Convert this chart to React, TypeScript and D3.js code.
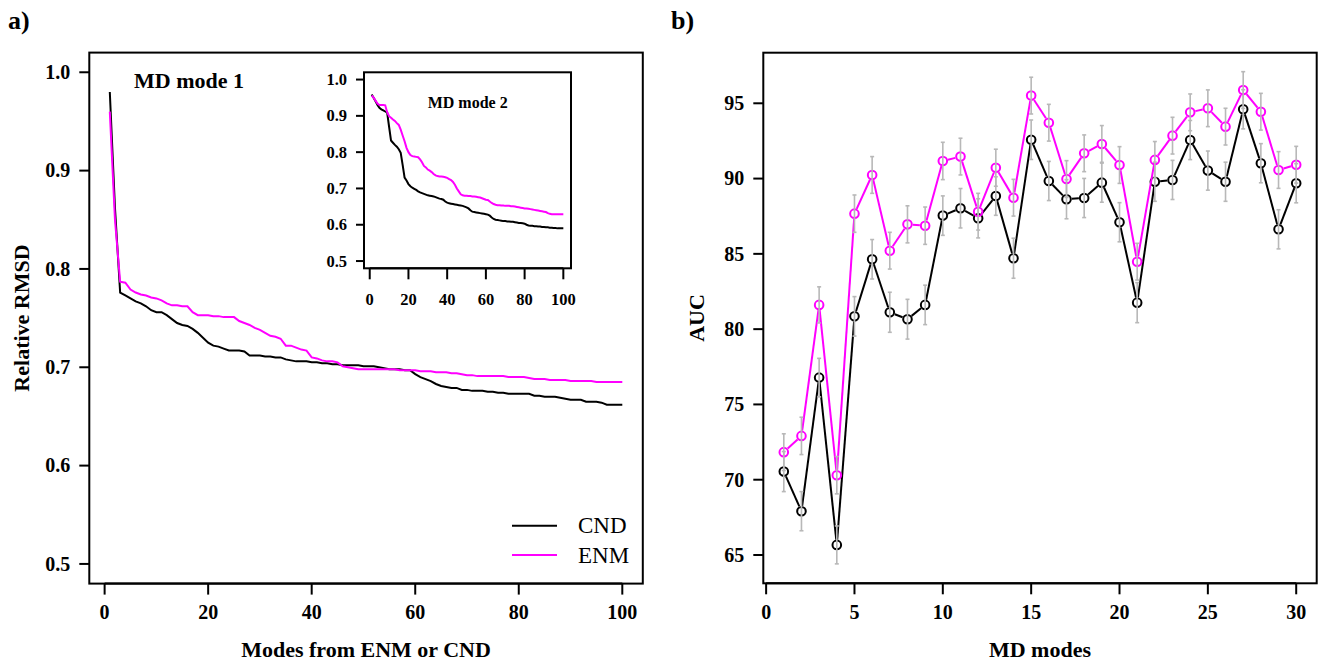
import { scaleLinear, line } from "d3";

// ---- panel a: relative RMSD vs number of modes (MD mode 1) ----
const cndMode1 = [
  0.98, 0.862, 0.776, 0.773, 0.77, 0.767, 0.765, 0.762, 0.758, 0.756,
  0.756, 0.753, 0.749, 0.745, 0.743, 0.742, 0.739, 0.735, 0.73, 0.725,
  0.722, 0.721, 0.719, 0.717, 0.717, 0.717, 0.716, 0.712, 0.712, 0.712,
  0.711, 0.711, 0.71, 0.71, 0.708, 0.707, 0.706, 0.706, 0.706, 0.705,
  0.705, 0.704, 0.704, 0.703, 0.703, 0.702, 0.702, 0.702, 0.702, 0.701,
  0.701, 0.701, 0.7, 0.699, 0.698, 0.698, 0.698, 0.697, 0.697, 0.693,
  0.69, 0.688, 0.686, 0.683, 0.681, 0.68, 0.679, 0.679, 0.677, 0.677,
  0.676, 0.676, 0.676, 0.675, 0.675, 0.674, 0.674, 0.673, 0.673, 0.673,
  0.673, 0.673, 0.671, 0.671, 0.67, 0.67, 0.67, 0.669, 0.668, 0.667,
  0.667, 0.667, 0.665, 0.665, 0.665, 0.664, 0.662, 0.662, 0.662, 0.662,
];
const enmMode1 = [
  0.96, 0.85, 0.787, 0.786, 0.779, 0.776, 0.774, 0.773, 0.771, 0.77,
  0.768, 0.765, 0.763, 0.763, 0.762, 0.762, 0.756, 0.753, 0.753, 0.753,
  0.752, 0.752, 0.751, 0.751, 0.751, 0.747, 0.745, 0.743, 0.74, 0.738,
  0.735, 0.732, 0.731, 0.729, 0.722, 0.722, 0.72, 0.718, 0.717, 0.71,
  0.709, 0.707, 0.706, 0.706, 0.705, 0.701, 0.7, 0.699, 0.698, 0.698,
  0.698, 0.698, 0.698, 0.698, 0.698, 0.698, 0.697, 0.697, 0.697, 0.697,
  0.696, 0.696, 0.696, 0.695, 0.695, 0.695, 0.694, 0.694, 0.693, 0.692,
  0.692, 0.691, 0.691, 0.691, 0.691, 0.691, 0.691, 0.69, 0.69, 0.69,
  0.69, 0.689, 0.688, 0.688, 0.688, 0.687, 0.687, 0.687, 0.687, 0.686,
  0.686, 0.686, 0.686, 0.686, 0.685, 0.685, 0.685, 0.685, 0.685, 0.685,
];
// inset: MD mode 2
const cndMode2 = [
  0.959, 0.95, 0.94, 0.93, 0.922, 0.918, 0.915, 0.912, 0.909, 0.87,
  0.832, 0.826, 0.82, 0.815, 0.808, 0.798, 0.765, 0.73, 0.722, 0.712,
  0.706, 0.702, 0.699, 0.696, 0.692, 0.689, 0.687, 0.685, 0.683, 0.681,
  0.68, 0.679, 0.678, 0.676, 0.674, 0.672, 0.671, 0.669, 0.664, 0.661,
  0.659, 0.658, 0.657, 0.656, 0.655, 0.654, 0.653, 0.652, 0.65, 0.648,
  0.645, 0.64, 0.636, 0.635, 0.634, 0.633, 0.632, 0.631, 0.63, 0.629,
  0.628, 0.625, 0.62, 0.616, 0.614, 0.613, 0.612, 0.611, 0.61, 0.61,
  0.609, 0.609, 0.608, 0.608, 0.607, 0.606, 0.605, 0.605, 0.604, 0.603,
  0.6, 0.598, 0.597, 0.597, 0.596, 0.596, 0.595, 0.595, 0.594, 0.594,
  0.593, 0.593, 0.592, 0.592, 0.591, 0.591, 0.59, 0.59, 0.59, 0.59,
];
const enmMode2 = [
  0.956, 0.95, 0.942, 0.934, 0.93, 0.93, 0.93, 0.929, 0.91, 0.899,
  0.895, 0.89, 0.886, 0.88, 0.875, 0.862, 0.846, 0.83, 0.812, 0.8,
  0.792, 0.789, 0.788, 0.787, 0.786, 0.78, 0.772, 0.762, 0.758, 0.752,
  0.749, 0.745, 0.74, 0.736, 0.734, 0.733, 0.733, 0.732, 0.731, 0.729,
  0.726, 0.723, 0.718, 0.71, 0.7, 0.692, 0.684, 0.681, 0.68, 0.68,
  0.679, 0.679, 0.678, 0.678, 0.677, 0.676, 0.675, 0.673, 0.671, 0.669,
  0.668, 0.664, 0.66, 0.657, 0.655, 0.654, 0.654, 0.653, 0.653, 0.652,
  0.652, 0.652, 0.651, 0.651, 0.65, 0.649, 0.648, 0.647, 0.646, 0.645,
  0.645, 0.644, 0.643, 0.642, 0.641, 0.64, 0.639, 0.638, 0.637, 0.636,
  0.635, 0.632, 0.63, 0.629, 0.629, 0.629, 0.629, 0.629, 0.629, 0.629,
];
const rmsdTicks = [0.5, 0.6, 0.7, 0.8, 0.9, 1.0];
const modeTicks = [0, 20, 40, 60, 80, 100];

// ---- panel b: AUC per MD mode ----
const mdModes = [
  1, 2, 3, 4, 5, 6, 7, 8, 9, 10, 11, 12, 13, 14, 15,
  16, 17, 18, 19, 20, 21, 22, 23, 24, 25, 26, 27, 28, 29, 30,
];
const aucCnd = [
  70.54, 67.91, 76.78, 65.67, 80.85, 84.64, 81.12, 80.66, 81.61, 87.54,
  88.03, 87.36, 88.84, 84.71, 92.58, 89.84, 88.63, 88.71, 89.73, 87.1,
  81.76, 89.79, 89.91, 92.56, 90.53, 89.79, 94.6, 91.02, 86.63, 89.69,
];
const aucCndErr = [
  1.33, 1.3, 1.28, 1.26, 1.31, 1.31, 1.33, 1.32, 1.31, 1.31,
  1.31, 1.3, 1.28, 1.33, 1.31, 1.3, 1.3, 1.3, 1.3, 1.3,
  1.33, 1.3, 1.3, 1.3, 1.3, 1.3, 1.3, 1.3, 1.3, 1.3,
];
const aucEnm = [
  71.83, 72.91, 81.61, 70.3, 87.67, 90.24, 85.21, 86.96, 86.87, 91.17,
  91.46, 87.8, 90.72, 88.73, 95.51, 93.71, 89.97, 91.68, 92.3, 90.9,
  84.48, 91.24, 92.85, 94.4, 94.67, 93.45, 95.88, 94.44, 90.57, 90.92,
];
const aucEnmErr = [
  1.22, 1.24, 1.2, 1.24, 1.24, 1.22, 1.22, 1.23, 1.24, 1.24,
  1.22, 1.22, 1.23, 1.22, 1.22, 1.22, 1.22, 1.22, 1.22, 1.22,
  1.22, 1.22, 1.22, 1.22, 1.22, 1.22, 1.22, 1.22, 1.22, 1.22,
];
const aucTicks = [65, 70, 75, 80, 85, 90, 95];
const mdTicks = [0, 5, 10, 15, 20, 25, 30];

const FONT = "'Liberation Serif', 'Times New Roman', serif";
const MAGENTA = "#ff00ff";
const ERR_GREY = "#b8b8b8";

const xA = scaleLinear().domain([-2.96, 103.96]).range([89.3, 642.8]);
const yA = scaleLinear().domain([0.48, 1.02]).range([583.6, 52.6]);
const xI = scaleLinear().domain([-2.96, 103.96]).range([364, 571]);
const yI = scaleLinear().domain([0.48, 1.02]).range([268.3, 72.3]);
const xB = scaleLinear().domain([-0.16, 31.16]).range([763.3, 1316.7]);
const yB = scaleLinear().domain([63.12, 98.36]).range([583.3, 52.7]);

function curve(xs: any, ys: any, vals: number[]) {
  return (
    line<number>()
      .x((_, i) => xs(i + 1))
      .y((d) => ys(d))(vals) || ""
  );
}

function Box({ x, y }: { x: any; y: any }) {
  const [x0, x1] = x.range();
  const [y0, y1] = y.range();
  return (
    <rect
      x={x0}
      y={y1}
      width={x1 - x0}
      height={y0 - y1}
      fill="none"
      stroke="#000"
      strokeWidth={2}
    />
  );
}

function LeftAxis({ y, x0, ticks, fmt, size, tick }: any) {
  return (
    <g>
      {ticks.map((t: number) => (
        <g key={t}>
          <line x1={x0 - tick} x2={x0} y1={y(t)} y2={y(t)} stroke="#000" strokeWidth={2} />
          <text
            x={x0 - tick - 9}
            y={y(t)}
            dy="0.34em"
            textAnchor="end"
            fontSize={size}
            fontWeight="bold"
            fontFamily={FONT}
          >
            {fmt(t)}
          </text>
        </g>
      ))}
    </g>
  );
}

function BottomAxis({ x, y0, ticks, size, tick, labelY }: any) {
  return (
    <g>
      <line
        x1={x(ticks[0])}
        x2={x(ticks[ticks.length - 1])}
        y1={y0}
        y2={y0}
        stroke="#000"
        strokeWidth={2}
      />
      {ticks.map((t: number) => (
        <g key={t}>
          <line x1={x(t)} x2={x(t)} y1={y0} y2={y0 + tick} stroke="#000" strokeWidth={2} />
          <text
            x={x(t)}
            y={labelY}
            textAnchor="middle"
            fontSize={size}
            fontWeight="bold"
            fontFamily={FONT}
          >
            {t}
          </text>
        </g>
      ))}
    </g>
  );
}

function AucSeries({ vals, errs, color }: { vals: number[]; errs: number[]; color: string }) {
  const r = 4.3;
  return (
    <g>
      {vals.slice(1).map((v, i) => {
        const ax = xB(mdModes[i]);
        const ay = yB(vals[i]);
        const bx = xB(mdModes[i + 1]);
        const by = yB(v);
        const len = Math.hypot(bx - ax, by - ay);
        if (len <= 2 * r + 1) return null;
        const ux = (bx - ax) / len;
        const uy = (by - ay) / len;
        return (
          <line
            key={i}
            x1={ax + ux * (r + 1)}
            y1={ay + uy * (r + 1)}
            x2={bx - ux * (r + 1)}
            y2={by - uy * (r + 1)}
            stroke={color}
            strokeWidth={2}
          />
        );
      })}
      {vals.map((v, i) => (
        <circle
          key={i}
          cx={xB(mdModes[i])}
          cy={yB(v)}
          r={r}
          fill="none"
          stroke={color}
          strokeWidth={2}
        />
      ))}
      {vals.map((v, i) => {
        const cx = xB(mdModes[i]);
        const top = yB(v + errs[i]);
        const bot = yB(v - errs[i]);
        return (
          <g key={"e" + i} stroke={ERR_GREY} strokeWidth={1.6}>
            <line x1={cx} x2={cx} y1={top} y2={bot} />
            <line x1={cx - 2} x2={cx + 2} y1={top} y2={top} />
            <line x1={cx - 2} x2={cx + 2} y1={bot} y2={bot} />
          </g>
        );
      })}
    </g>
  );
}

export default function App() {
  const fmt1 = (t: number) => t.toFixed(1);
  return (
    <svg
      width={1318}
      height={661}
      style={{ position: "absolute", left: 0, top: 0, background: "#fff" }}
    >
      <rect width={1318} height={661} fill="#fff" />

      {/* ---------- panel a ---------- */}
      <text x={8} y={29} fontSize={26} fontWeight="bold" fontFamily={FONT}>
        a)
      </text>
      <Box x={xA} y={yA} />
      <LeftAxis y={yA} x0={89.3} ticks={rmsdTicks} fmt={fmt1} size={20} tick={10} />
      <BottomAxis x={xA} y0={583.6} ticks={modeTicks} size={20} tick={11} labelY={619} />
      <text
        transform="translate(29,318) rotate(-90)"
        textAnchor="middle"
        fontSize={22}
        fontWeight="bold"
        fontFamily={FONT}
      >
        Relative RMSD
      </text>
      <text x={366} y={657} textAnchor="middle" fontSize={22} fontWeight="bold" fontFamily={FONT}>
        Modes from ENM or CND
      </text>
      <text x={134} y={88} fontSize={22} fontWeight="bold" fontFamily={FONT}>
        MD mode 1
      </text>
      <path d={curve(xA, yA, cndMode1)} fill="none" stroke="#000" strokeWidth={2} />
      <path d={curve(xA, yA, enmMode1)} fill="none" stroke={MAGENTA} strokeWidth={2} />

      {/* legend */}
      <line x1={512} x2={557} y1={525.7} y2={525.7} stroke="#000" strokeWidth={2} />
      <line x1={512} x2={557} y1={555} y2={555} stroke={MAGENTA} strokeWidth={2} />
      <text x={578} y={533.3} fontSize={23} fontFamily={FONT}>
        CND
      </text>
      <text x={578} y={562.6} fontSize={23} fontFamily={FONT}>
        ENM
      </text>

      {/* inset */}
      <rect x={364} y={72.3} width={207} height={196} fill="#fff" />
      <Box x={xI} y={yI} />
      <LeftAxis y={yI} x0={364} ticks={rmsdTicks} fmt={fmt1} size={16.5} tick={8} />
      <BottomAxis x={xI} y0={268.3} ticks={modeTicks} size={16.5} tick={11} labelY={305} />
      <text x={427.7} y={108.3} fontSize={16} fontWeight="bold" fontFamily={FONT}>
        MD mode 2
      </text>
      <path d={curve(xI, yI, cndMode2)} fill="none" stroke="#000" strokeWidth={2} />
      <path d={curve(xI, yI, enmMode2)} fill="none" stroke={MAGENTA} strokeWidth={2} />

      {/* ---------- panel b ---------- */}
      <text x={671} y={29} fontSize={26} fontWeight="bold" fontFamily={FONT}>
        b)
      </text>
      <Box x={xB} y={yB} />
      <LeftAxis y={yB} x0={763.3} ticks={aucTicks} fmt={(t: number) => t} size={20} tick={10} />
      <BottomAxis x={xB} y0={583.3} ticks={mdTicks} size={20} tick={11} labelY={619} />
      <text
        transform="translate(704,318) rotate(-90)"
        textAnchor="middle"
        fontSize={22}
        fontWeight="bold"
        fontFamily={FONT}
      >
        AUC
      </text>
      <text x={1040} y={657} textAnchor="middle" fontSize={22} fontWeight="bold" fontFamily={FONT}>
        MD modes
      </text>
      <AucSeries vals={aucCnd} errs={aucCndErr} color="#000" />
      <AucSeries vals={aucEnm} errs={aucEnmErr} color={MAGENTA} />
    </svg>
  );
}
